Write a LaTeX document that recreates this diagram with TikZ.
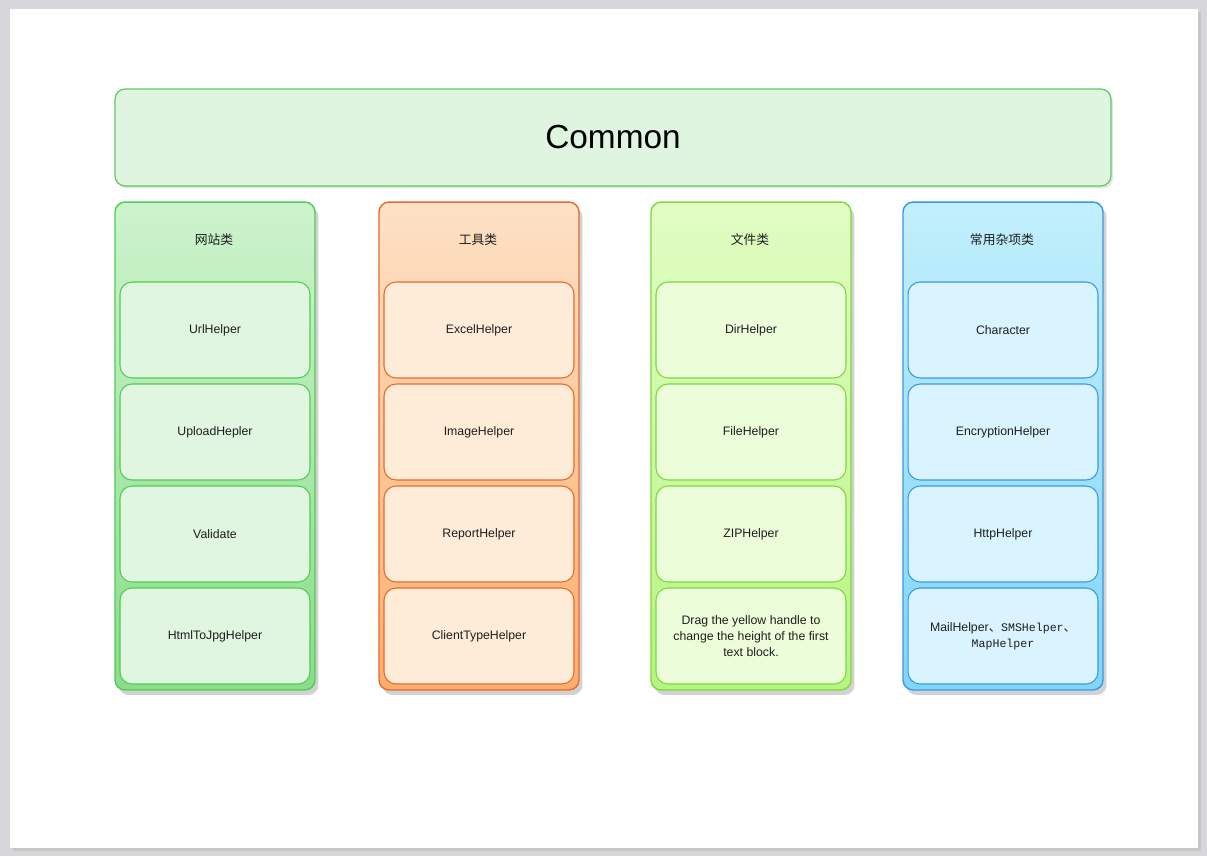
\documentclass[tikz,border=0pt]{standalone}
\usepackage{fontspec}
\setmainfont{Liberation Sans}
\newfontfamily\cjk{Noto Sans CJK SC}
\newfontfamily\simmono{Liberation Mono}
\usetikzlibrary{positioning,shadows,calc}

% page and title colours
\definecolor{pagegray}{HTML}{D7D7DB}
\definecolor{commonfill}{HTML}{DFF5DF}
\definecolor{commonline}{HTML}{62C862}
\definecolor{inktext}{HTML}{1E1E1E}
% column colours
\definecolor{lineweb}{HTML}{52CC52}
\definecolor{topweb}{HTML}{CDF3CD}
\definecolor{botweb}{HTML}{8ADD8A}
\definecolor{fillweb}{HTML}{E0F6E0}
\definecolor{linetool}{HTML}{E8692E}
\definecolor{toptool}{HTML}{FDE1C6}
\definecolor{bottool}{HTML}{FDAE6C}
\definecolor{filltool}{HTML}{FEECD9}
\definecolor{linefile}{HTML}{7ED83E}
\definecolor{topfile}{HTML}{E2FDC4}
\definecolor{botfile}{HTML}{B6F480}
\definecolor{fillfile}{HTML}{ECFDDA}
\definecolor{linemisc}{HTML}{3A98E2}
\definecolor{topmisc}{HTML}{C2EFFC}
\definecolor{botmisc}{HTML}{80D6F6}
\definecolor{fillmisc}{HTML}{D9F4FE}

\begin{document}
\begin{tikzpicture}[
    x=0.02cm, y=-0.02cm,
    commonbox/.style={draw=commonline, line width=0.7pt, fill=commonfill, rounded corners=0.2cm,
        minimum width=19.92cm, minimum height=1.94cm, font=\fontsize{19}{22}\selectfont,
        drop shadow={shadow xshift=0.04cm, shadow yshift=-0.05cm, opacity=0.2}},
    column/.style={draw=line#1, line width=0.8pt, rounded corners=0.2cm,
        minimum width=4cm, minimum height=9.76cm, top color=top#1, bottom color=bot#1,
        drop shadow={shadow xshift=0.07cm, shadow yshift=-0.1cm, opacity=0.35}},
    head/.style={text=inktext, font=\cjk\fontsize{7.3}{9}\selectfont},
    item/.style={draw=line#1, fill=fill#1, line width=0.6pt, rounded corners=0.24cm,
        minimum width=3.8cm, minimum height=1.92cm, align=center, text=inktext,
        font=\fontsize{7}{9.2}\selectfont}
]

% Page
\fill[pagegray] (0,0) rectangle (1207,856);
\fill[gray!45] (13,12) rectangle (1201,851);
\fill[white] (10,9) rectangle (1198,848);

% Title
\node[commonbox] (common) at (613,137.5) {Common};

% Columns and their headings
\foreach \name/\x/\head in {web/215/网站类, tool/479/工具类, file/751/文件类, misc/1003/常用杂项类} {
    \node[column=\name] (\name) at (\x,446) {};
    \node[head] (\name-head) at (\x-1,240) {\head};
}

% Items of each column
\foreach \i/\t in {1/UrlHelper, 2/UploadHepler, 3/Validate, 4/HtmlToJpgHelper} {
    \pgfmathsetmacro{\y}{330 + (\i-1)*102}
    \node[item=web] (web-\i) at (215,\y) {\t};
}
\foreach \i/\t in {1/ExcelHelper, 2/ImageHelper, 3/ReportHelper, 4/ClientTypeHelper} {
    \pgfmathsetmacro{\y}{330 + (\i-1)*102}
    \node[item=tool] (tool-\i) at (479,\y) {\t};
}
\foreach \i/\t in {1/DirHelper, 2/FileHelper, 3/ZIPHelper,
    4/{Drag the yellow handle to\\change the height of the first\\text block.}} {
    \pgfmathsetmacro{\y}{330 + (\i-1)*102}
    \node[item=file] (file-\i) at (751,\y) {\t};
}
\foreach \i/\t in {1/Character, 2/EncryptionHelper, 3/HttpHelper,
    4/{MailHelper{\cjk 、}{\simmono\fontsize{6.6}{9}\selectfont SMSHelper}{\cjk 、}\\{\simmono\fontsize{6.6}{9}\selectfont MapHelper}}} {
    \pgfmathsetmacro{\y}{330 + (\i-1)*102}
    \node[item=misc] (misc-\i) at (1003,\y) {\t};
}

\end{tikzpicture}
\end{document}
